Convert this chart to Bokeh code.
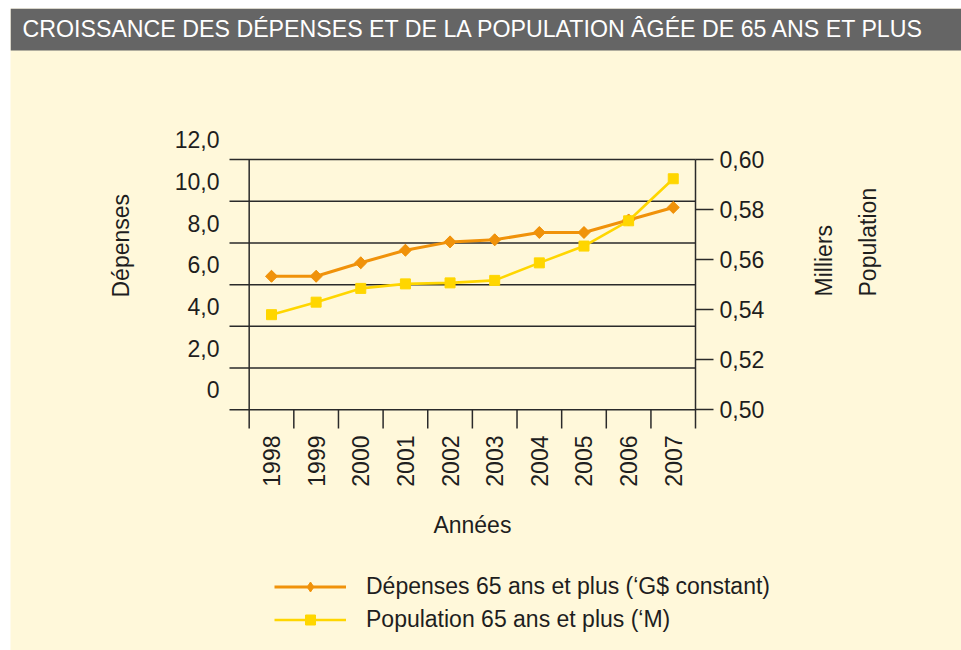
from math import pi
from bokeh.plotting import figure
from bokeh.models import (Range1d, LinearAxis, FixedTicker, CustomJSTickFormatter,
                          Label, Legend, LegendItem, BoxAnnotation)
from bokeh.embed import file_html
from bokeh.resources import INLINE

# ---------------- data ----------------
title_text = "CROISSANCE DES DÉPENSES ET DE LA POPULATION ÂGÉE DE 65 ANS ET PLUS"
years = [1998, 1999, 2000, 2001, 2002, 2003, 2004, 2005, 2006, 2007]
depenses = [6.4, 6.4, 7.05, 7.65, 8.05, 8.15, 8.5, 8.5, 9.1, 9.7]
population = [0.538, 0.543, 0.5485, 0.5503, 0.5507, 0.5517, 0.5587, 0.5654, 0.5755, 0.5923]
left_ticks = [0, 2, 4, 6, 8, 10, 12]
right_ticks = [0.50, 0.52, 0.54, 0.56, 0.58, 0.60]
left_axis_title = "Dépenses"
right_axis_title_1 = "Milliers"
right_axis_title_2 = "Population"
x_axis_title = "Années"
legend_labels = ["Dépenses 65 ans et plus (‘G$ constant)",
                 "Population 65 ans et plus (‘M)"]

# ---------------- style / layout ----------------
FONT = "Liberation Sans"
CREAM = "#FFF8DA"
GRAY = "#656565"
ORANGE = "#F0920A"
YELLOW = "#FFD600"
INK = "#1E1E1E"
RULE = "#2A2A2A"
FS = "23px"

W, H = 961, 650
ML, MT = 10, 8                 # white strip left / top
PX_PER_YEAR = 44.64
X_FIRST_PX = 271.0             # pixel column of the first year
PX_PER_UNIT = 20.86            # pixels per unit of the left scale
Y_ZERO_PX = 409.3              # pixel row of the zero line
RIGHT_K = 120.0                # left units per right unit (12 / 0.1)
LBL_SHIFT = 0.95               # left tick labels sit half a step above their line

X_START = years[0] - (X_FIRST_PX - ML) / PX_PER_YEAR
X_END = years[0] + (W - X_FIRST_PX) / PX_PER_YEAR
Y_START = (Y_ZERO_PX - H) / PX_PER_UNIT
Y_END = (Y_ZERO_PX - MT) / PX_PER_UNIT


def xpix(px):
    return X_START + (px - ML) / PX_PER_YEAR


def ypix(py):
    return (Y_ZERO_PX - py) / PX_PER_UNIT


def to_right(v):
    return right_ticks[0] + v / RIGHT_K


p = figure(width=W, height=H, min_border_left=ML, min_border_top=MT,
           min_border_right=0, min_border_bottom=0,
           x_range=Range1d(X_START, X_END), y_range=Range1d(Y_START, Y_END),
           x_axis_type=None, y_axis_type=None, toolbar_location=None,
           output_backend="svg", outline_line_color=None,
           background_fill_color=CREAM, border_fill_color="white")

p.extra_y_ranges = {
    "lbl": Range1d(Y_START - LBL_SHIFT, Y_END - LBL_SHIFT),
    "right": Range1d(to_right(Y_START), to_right(Y_END)),
}

# title bar
p.add_layout(BoxAnnotation(left=X_START, right=X_END, top=Y_END, bottom=ypix(50),
                           fill_color=GRAY, fill_alpha=1, line_color=None))
p.add_layout(Label(x=xpix(22), y=ypix(28), text=title_text, text_color="white",
                   text_font=FONT, text_font_size="23.2px", text_baseline="middle"))

GRID_X0 = xpix(229)
AXIS_Y0 = ypix(428)
x_last = years[-1] + 0.5

# horizontal grid lines (stubbing out to the left)
p.segment(x0=[GRID_X0] * len(left_ticks), y0=left_ticks,
          x1=[x_last] * len(left_ticks), y1=left_ticks,
          line_color=RULE, line_width=1.5)

# category separators
bounds = [y - 0.5 for y in years]
p.segment(x0=bounds[1:], y0=[AXIS_Y0] * (len(bounds) - 1),
          x1=bounds[1:], y1=[0] * (len(bounds) - 1),
          line_color=RULE, line_width=1.5)
p.segment(x0=[bounds[0]], y0=[AXIS_Y0], x1=[bounds[0]], y1=[left_ticks[-1]],
          line_color=RULE, line_width=1.5)

# data series
l1 = p.line(years, depenses, line_color=ORANGE, line_width=3)
s1 = p.scatter(years, depenses, marker="square", angle=pi / 4, size=8.5,
               fill_color=ORANGE, line_color=ORANGE)
s1d = p.scatter(years, depenses, marker="diamond", size=11,
                fill_color=ORANGE, line_color=ORANGE)
l2 = p.line(years, population, line_color=YELLOW, line_width=2.6, y_range_name="right")
s2 = p.scatter(years, population, marker="square", size=10, fill_color=YELLOW,
               line_color=YELLOW, y_range_name="right")

# left axis: labels only, shifted like the original
la = LinearAxis(y_range_name="lbl", fixed_location=GRID_X0,
                ticker=FixedTicker(ticks=left_ticks),
                formatter=CustomJSTickFormatter(code="return tick == 0 ? '0' : tick.toFixed(1).replace('.', ',');"),
                axis_line_color=None, major_tick_line_color=None, minor_tick_line_color=None,
                major_tick_out=0, major_tick_in=0, major_label_standoff=10,
                major_label_text_font=FONT, major_label_text_font_size=FS,
                major_label_text_color=INK)
p.add_layout(la, "left")

# right axis
ra = LinearAxis(y_range_name="right", fixed_location=x_last,
                ticker=FixedTicker(ticks=right_ticks),
                formatter=CustomJSTickFormatter(code="return tick.toFixed(2).replace('.', ',');"),
                bounds=(to_right(AXIS_Y0), right_ticks[-1]),
                axis_line_color=RULE, axis_line_width=1.5,
                major_tick_line_color=RULE, major_tick_line_width=1.5,
                minor_tick_line_color=None, major_tick_out=18, major_tick_in=0,
                major_label_standoff=6, major_label_text_font=FONT,
                major_label_text_font_size=FS, major_label_text_color=INK)
p.add_layout(ra, "right")

# bottom axis (years)
ba = LinearAxis(fixed_location=AXIS_Y0, ticker=FixedTicker(ticks=years),
                formatter=CustomJSTickFormatter(code="return tick.toFixed(0);"),
                axis_line_color=None, major_tick_line_color=None, minor_tick_line_color=None,
                major_tick_out=0, major_tick_in=0, major_label_standoff=7,
                major_label_orientation=pi / 2, major_label_text_font=FONT,
                major_label_text_font_size=FS, major_label_text_color=INK)
p.add_layout(ba, "below")

# axis titles
for txt, px, py in [(left_axis_title, 120, 297),
                    (right_axis_title_1, 823, 296),
                    (right_axis_title_2, 867, 296)]:
    p.add_layout(Label(x=xpix(px), y=ypix(py), text=txt, angle=pi / 2,
                       text_font=FONT, text_font_size=FS, text_color=INK,
                       text_align="left", text_baseline="alphabetic"))
p.add_layout(Label(x=(years[0] + years[-1]) / 2, y=ypix(524), text=x_axis_title,
                   text_font=FONT, text_font_size=FS, text_color=INK,
                   text_align="center", text_baseline="middle"))

# legend
legend = Legend(items=[LegendItem(label=legend_labels[0], renderers=[l1, s1d]),
                       LegendItem(label=legend_labels[1], renderers=[l2, s2])],
                location=(274 - ML, 17), orientation="vertical",
                glyph_width=72, glyph_height=25, label_height=25, label_standoff=20,
                spacing=6, padding=0, margin=0, border_line_color=None,
                background_fill_alpha=0, label_text_font=FONT, label_text_font_size=FS,
                label_text_color=INK)
p.add_layout(legend)

open("out.html", "w").write(file_html(p, INLINE))
